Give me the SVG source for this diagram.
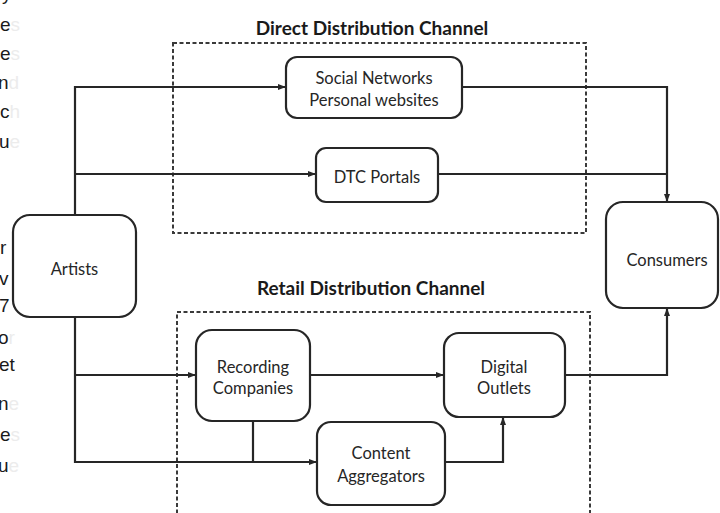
<svg xmlns="http://www.w3.org/2000/svg" width="720" height="513" viewBox="0 0 720 513">
<style>
.node rect{fill:#fff;stroke:#262626;stroke-width:2.2}
.lbl{font-family:Lato,"Open Sans","Liberation Sans",sans-serif;font-size:16.5px;fill:#262626;text-anchor:middle}
.title{font-family:Lato,"Open Sans","Liberation Sans",sans-serif;font-size:19px;font-weight:bold;fill:#1a1a1a;text-anchor:middle}
.frame{fill:none;stroke:#3a3a3a;stroke-width:2;stroke-dasharray:4 2.5}
.conn path{fill:none;stroke:#262626;stroke-width:2.2}
.frag{font-family:"Liberation Sans",Arial,sans-serif;font-size:19px;fill:#1a1a1a}
.fade{fill:#ececec}
</style>
<defs>
<marker id="ah" viewBox="0 0 8 8" refX="7" refY="4" markerWidth="8" markerHeight="8" markerUnits="userSpaceOnUse" orient="auto">
<path d="M0,1 L8,4 L0,7 Z" fill="#262626"/>
</marker>
</defs>
<rect width="720" height="513" fill="#fff"/>
<g id="page-fragments">
<text class="frag" x="2" y="0">y</text>
<text class="frag" x="0" y="31">e<tspan class="fade">s</tspan></text>
<text class="frag" x="0" y="60">e<tspan class="fade">s</tspan></text>
<text class="frag" x="-2" y="89">n<tspan class="fade">d</tspan></text>
<text class="frag" x="0" y="118">c<tspan class="fade">h</tspan></text>
<text class="frag" x="-1" y="148">u<tspan class="fade">e</tspan></text>
<text class="frag" x="0" y="254">r</text>
<text class="frag" x="-1" y="285">v</text>
<text class="frag" x="-1" y="312">7</text>
<text class="frag" x="-2" y="344">o<tspan class="fade">r</tspan></text>
<text class="frag" x="-1" y="371">et</text>
<text class="frag" x="-2" y="410">n<tspan class="fade">e</tspan></text>
<text class="frag" x="0" y="441">e<tspan class="fade">s</tspan></text>
<text class="frag" x="-2" y="472">u<tspan class="fade">e</tspan></text>
</g>
<g id="direct-channel">
<text class="title" x="372" y="35">Direct Distribution Channel</text>
<rect class="frame" x="173" y="43" width="413" height="190"/>
</g>
<g id="retail-channel">
<text class="title" x="371" y="295">Retail Distribution Channel</text>
<path class="frame" d="M177,520 V312 H590 V520"/>
</g>
<g class="conn" id="connectors">
<path d="M75,215 V87 H285" marker-end="url(#ah)"/>
<path d="M75,174 H315" marker-end="url(#ah)"/>
<path d="M462,87 H667 V201" marker-end="url(#ah)"/>
<path d="M438,174 H667"/>
<path d="M75,317 V462 H316" marker-end="url(#ah)"/>
<path d="M75,375 H195" marker-end="url(#ah)"/>
<path d="M253,421 V462"/>
<path d="M310,375 H443" marker-end="url(#ah)"/>
<path d="M445,462 H503 V418" marker-end="url(#ah)"/>
<path d="M565,375 H667 V309" marker-end="url(#ah)"/>
</g>
<g class="node" id="artists">
<rect x="13" y="215" width="123" height="102" rx="17"/>
<text class="lbl" x="74.5" y="275">Artists</text>
</g>
<g class="node" id="social">
<rect x="286" y="57" width="176" height="61" rx="11"/>
<text class="lbl" x="374" y="84">Social Networks</text>
<text class="lbl" x="374" y="106">Personal websites</text>
</g>
<g class="node" id="dtc">
<rect x="316" y="148" width="122" height="54" rx="10"/>
<text class="lbl" x="377" y="183">DTC Portals</text>
</g>
<g class="node" id="consumers">
<rect x="606" y="202" width="112" height="106" rx="17"/>
<text class="lbl" x="667" y="266">Consumers</text>
</g>
<g class="node" id="recording">
<rect x="196" y="330" width="114" height="91" rx="16"/>
<text class="lbl" x="253" y="373">Recording</text>
<text class="lbl" x="253" y="394">Companies</text>
</g>
<g class="node" id="digital">
<rect x="444" y="333" width="121" height="84" rx="15"/>
<text class="lbl" x="504" y="373">Digital</text>
<text class="lbl" x="504" y="394">Outlets</text>
</g>
<g class="node" id="aggregators">
<rect x="317" y="422" width="128" height="83" rx="14"/>
<text class="lbl" x="381" y="459">Content</text>
<text class="lbl" x="381" y="482">Aggregators</text>
</g>
</svg>
